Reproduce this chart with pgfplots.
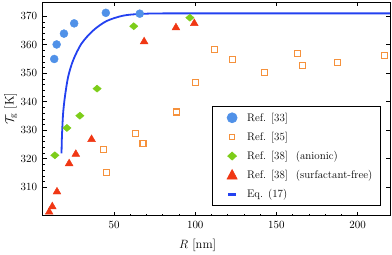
\documentclass[border=0pt]{standalone}
\usepackage{pgfplots}
\pgfplotsset{compat=1.18}
\definecolor{cblue}{RGB}{80,145,232}
\definecolor{corange}{RGB}{245,145,60}
\definecolor{cgreen}{RGB}{125,205,25}
\definecolor{cred}{RGB}{240,55,20}
\definecolor{cline}{RGB}{35,65,240}
\begin{document}
\begin{tikzpicture}
\pgfplotsset{every axis/.append style={scale only axis, width=347.3pt, height=213.7pt,
  xmin=6, xmax=220, ymin=300, ymax=375, tick align=inside,
  major tick length=4pt, minor tick length=2pt, axis line style={line width=0.7pt},
  every tick/.style={black, line width=0.6pt},
  tick label style={font=\fontsize{11}{13}\selectfont}}}
\begin{axis}[
  name=main,
  xtick={50,100,150,200}, ytick={310,320,...,370},
  minor x tick num=4, minor y tick num=4,
  xtick pos=left, ytick pos=left,
  xticklabel style={yshift=-2.5pt}, yticklabel style={xshift=-2pt},
  xlabel={$R$\,\,[nm]}, ylabel={$\mathcal{T}_{\mathrm{g}}$\,\,[K]},
  label style={font=\fontsize{12.5}{14}\selectfont},
  xlabel style={at={(axis description cs:0.446,-0.137)}, anchor=center},
  ylabel style={at={(axis description cs:-0.092,0.5)}, anchor=center},
  legend cell align=left,
  legend style={at={(0.973,0.045)}, anchor=south east, draw=black, line width=0.7pt,
    row sep=5.4pt, column sep=4.5pt, inner xsep=6pt, inner ysep=4.5pt,
    font=\fontsize{11}{13}\selectfont},
]
\coordinate (ll) at (rel axis cs:0,0);
\coordinate (ur) at (rel axis cs:1,1);
\addplot[only marks, mark=*, mark size=4pt, color=cblue,
  legend image code/.code={\path[draw=none,fill=none] (-0.2cm,0cm) -- (0.6cm,0cm);
    \fill[cblue] (0.3cm,0cm) circle (5pt);}] coordinates {
 (13.1,355.0) (14.6,360.1) (19.1,363.9) (25.4,367.5) (44.9,371.2) (65.8,370.9)};
\addlegendentry{Ref.\hspace{5pt}[33]}
\addplot[only marks, mark=square*, mark size=3pt, color=corange, mark options={line width=1.1pt, fill=white, draw=corange},
  legend image code/.code={\path[draw=none,fill=none] (-0.2cm,0cm) -- (0.6cm,0cm);
    \draw[corange, fill=white, line width=1.1pt] (0.3cm,0cm) ++(-2.6pt,-2.6pt) rectangle ++(5.2pt,5.2pt);}] coordinates {
 (63.3,328.8) (67.8,325.3) (43.2,323.1) (45.1,315.1) (88.7,336.4) (100.4,346.6)
 (111.9,358.2) (123.2,354.9) (142.5,350.4) (162.8,356.9) (166.2,352.8) (187.8,353.8) (216.5,356.3)};
\addlegendentry{Ref.\hspace{5pt}[35]}
\addplot[only marks, mark=diamond*, mark size=3.6pt, color=cgreen, mark options={xscale=1.55},
  legend image code/.code={\path[draw=none,fill=none] (-0.2cm,0cm) -- (0.6cm,0cm);
    \fill[cgreen] (0.3cm,0cm) ++(0pt,4pt) -- ++(-4.4pt,-4pt) -- ++(4.4pt,-4pt) -- ++(4.4pt,4pt) -- cycle;}] coordinates {
 (13.5,321.2) (20.9,330.8) (28.9,335.1) (39.5,344.6) (62.1,366.5) (96.7,369.5)};
\addlegendentry{Ref.\hspace{5pt}[38]\hspace{8pt}(anionic)}
\addplot[only marks, mark=triangle*, mark size=4.5pt, color=cred,
  legend image code/.code={\path[draw=none,fill=none] (-0.2cm,0cm) -- (0.6cm,0cm);
    \fill[cred] (0.3cm,0cm) ++(0pt,5.6pt) -- ++(-5pt,-9.4pt) -- ++(10pt,0pt) -- cycle;}] coordinates {
 (10.0,301.3) (11.9,303.2) (14.8,308.4) (22.3,318.3) (26.4,321.6) (36.1,326.8)
 (68.5,361.1) (88.1,366.0) (99.4,367.5)};
\addlegendentry{Ref.\hspace{5pt}[38]\hspace{8pt}(surfactant-free)}
\addplot[color=cline, line width=1.8pt, smooth, tension=0.5,
  legend image code/.code={\path[draw=none,fill=none] (-0.2cm,0cm) -- (0.6cm,0cm);
    \draw[cline, line width=2.6pt] (0.17cm,0cm) -- (0.43cm,0cm);}] coordinates {
 (17.6,321.9) (17.75,326) (18.0,329.8) (18.6,336.1) (19.7,341.8) (21.7,348.8) (24.8,354.6)
 (29.9,360.4) (37.1,365.0) (45.3,368.3) (55.5,370.2) (65.8,370.8) (80,371.0) (120,371.0) (220,371.0)};
\addlegendentry{Eq.\hspace{5pt}(17)}
\end{axis}
\begin{axis}[xtick={50,100,150,200}, ytick={310,320,...,370},
  xtick pos=right, ytick pos=right, xticklabels={}, yticklabels={}]
\end{axis}
\pgfresetboundingbox
\path ([shift={(-42.7pt,-38.3pt)}]ll) rectangle ([shift={(2pt,2pt)}]ur);
\end{tikzpicture}
\end{document}
